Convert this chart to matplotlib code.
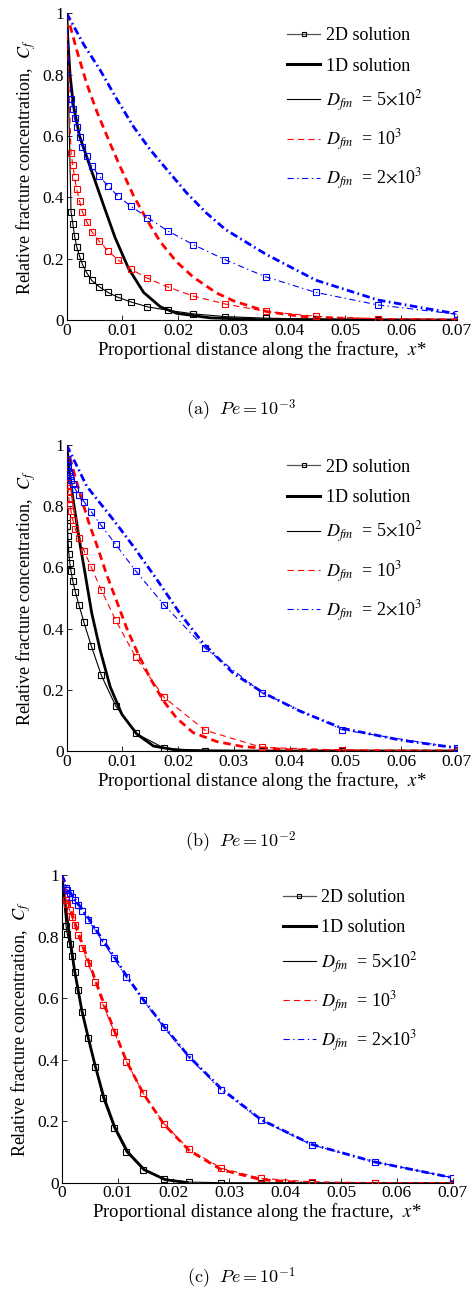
import numpy as np
import matplotlib
matplotlib.use("Agg")
import matplotlib.pyplot as plt
from matplotlib.lines import Line2D

plt.rcParams["font.family"] = ["Liberation Serif", "DejaVu Serif"]
plt.rcParams["mathtext.fontset"] = "stix"
plt.rcParams["lines.scale_dashes"] = False

# ---- data ----
# (a) Pe = 1e-3
xa_2d = [0.00078, 0.0011, 0.0014, 0.0018, 0.0023, 0.0028, 0.0036, 0.0045, 0.0058, 0.0074,
         0.0092, 0.0115, 0.0145, 0.0181, 0.0227, 0.0285, 0.0357, 0.0447, 0.0559, 0.07]
a_2d_black = [0.353, 0.313, 0.275, 0.239, 0.209, 0.182, 0.154, 0.129, 0.109, 0.090,
              0.074, 0.059, 0.043, 0.032, 0.020, 0.011, 0.006, 0.003, 0.001, 0.0]
a_2d_red = [0.543, 0.505, 0.465, 0.426, 0.389, 0.353, 0.320, 0.288, 0.258, 0.226,
            0.196, 0.166, 0.136, 0.108, 0.078, 0.052, 0.028, 0.012, 0.004, 0.001]
a_2d_blue = [0.720, 0.689, 0.658, 0.628, 0.598, 0.565, 0.535, 0.502, 0.470, 0.437,
             0.404, 0.371, 0.334, 0.291, 0.246, 0.196, 0.141, 0.090, 0.049, 0.019]
a_1d_black_x = [0, 0.0002, 0.0006, 0.0012, 0.0023, 0.0042, 0.0066, 0.0087, 0.0111, 0.0138,
                0.0168, 0.0197, 0.0257, 0.035, 0.07]
a_1d_black_y = [1, 0.92, 0.80, 0.70, 0.60, 0.50, 0.375, 0.268, 0.168, 0.09,
                0.043, 0.022, 0.007, 0.001, 0.0]
a_1d_red_x = [0, 0.0018, 0.0036, 0.0054, 0.0078, 0.0096, 0.012, 0.0144, 0.0168, 0.0197,
              0.0227, 0.0269, 0.03, 0.036, 0.042, 0.048, 0.056, 0.07]
a_1d_red_y = [1, 0.88, 0.77, 0.68, 0.575, 0.50, 0.405, 0.326, 0.255, 0.19,
              0.14, 0.088, 0.062, 0.027, 0.012, 0.005, 0.002, 0.0]
a_1d_blue_x = [0, 0.003, 0.006, 0.009, 0.012, 0.015, 0.018, 0.0215, 0.025, 0.0285,
               0.0357, 0.0447, 0.0559, 0.07]
a_1d_blue_y = [1, 0.90, 0.815, 0.72, 0.63, 0.555, 0.49, 0.415, 0.35, 0.295,
               0.215, 0.13, 0.065, 0.02]

# (b) Pe = 1e-2
xb_2d = [0.0001, 0.00014, 0.0002, 0.00027, 0.00039, 0.00055, 0.00077, 0.0011, 0.00155, 0.0022,
         0.0031, 0.0044, 0.0062, 0.0088, 0.0124, 0.0175, 0.0248, 0.035, 0.0495, 0.07]
b_2d_black = [0.766, 0.735, 0.703, 0.675, 0.645, 0.616, 0.588, 0.555, 0.52, 0.477,
              0.42, 0.344, 0.248, 0.147, 0.058, 0.009, 0.001, 0.0, 0.0, 0.0]
b_2d_red = [0.895, 0.88, 0.865, 0.85, 0.826, 0.804, 0.784, 0.755, 0.725, 0.695,
            0.655, 0.601, 0.527, 0.427, 0.306, 0.175, 0.068, 0.012, 0.003, 0.0]
b_2d_blue = [0.955, 0.945, 0.935, 0.924, 0.912, 0.9, 0.887, 0.872, 0.855, 0.837,
             0.815, 0.782, 0.737, 0.675, 0.588, 0.477, 0.337, 0.191, 0.069, 0.010]
b_1d_black_x = [0, 0.0005, 0.0012, 0.0024, 0.0033, 0.0045, 0.006, 0.0078, 0.0099, 0.0126,
                0.0156, 0.02, 0.03, 0.07]
b_1d_black_y = [1, 0.91, 0.815, 0.675, 0.58, 0.45, 0.33, 0.21, 0.12, 0.055,
                0.016, 0.002, 0.0, 0.0]
b_1d_red_x = [0, 0.001, 0.0024, 0.0039, 0.0054, 0.0072, 0.009, 0.0108, 0.0129, 0.015,
              0.0174, 0.0197, 0.0227, 0.0269, 0.0317, 0.04, 0.05, 0.07]
b_1d_red_y = [1, 0.93, 0.84, 0.75, 0.673, 0.575, 0.488, 0.40, 0.314, 0.237,
              0.163, 0.108, 0.06, 0.031, 0.014, 0.004, 0.001, 0.0]
b_1d_blue_x = [0, 0.0036, 0.0084, 0.012, 0.0162, 0.0203, 0.0245, 0.0299, 0.0353, 0.0419,
               0.0495, 0.0598, 0.07]
b_1d_blue_y = [1, 0.865, 0.755, 0.668, 0.56, 0.45, 0.352, 0.254, 0.19, 0.13,
               0.074, 0.036, 0.01]

# (c) Pe = 1e-1
xc_2d = [0.00078, 0.001, 0.0014, 0.0018, 0.0023, 0.0029, 0.0037, 0.0047, 0.006, 0.0074,
         0.0094, 0.0116, 0.0146, 0.0183, 0.0228, 0.0286, 0.0357, 0.0448, 0.056, 0.07]
c_2d_black = [0.834, 0.808, 0.776, 0.737, 0.686, 0.626, 0.556, 0.469, 0.377, 0.274,
              0.177, 0.099, 0.042, 0.012, 0.002, 0.0, 0.0, 0.0, 0.0, 0.0]
c_2d_red = [0.919, 0.905, 0.886, 0.865, 0.837, 0.805, 0.764, 0.713, 0.653, 0.578,
            0.491, 0.393, 0.291, 0.192, 0.108, 0.047, 0.014, 0.003, 0.0, 0.0]
c_2d_blue = [0.959, 0.951, 0.940, 0.929, 0.918, 0.902, 0.883, 0.854, 0.821, 0.781,
             0.729, 0.667, 0.593, 0.505, 0.407, 0.301, 0.203, 0.123, 0.068, 0.016]
c_1d_black_x = [0, 0.0008, 0.0015, 0.0023, 0.0036, 0.0047, 0.006, 0.0075, 0.0095, 0.0118,
                0.0148, 0.0185, 0.0225]
c_1d_black_y = [1, 0.88, 0.79, 0.69, 0.56, 0.475, 0.38, 0.28, 0.18, 0.10,
                0.042, 0.01, 0.0]
c_1d_red_x = [0, 0.001, 0.0018, 0.003, 0.0048, 0.006, 0.0075, 0.0094, 0.0116, 0.0146,
              0.0183, 0.0228, 0.0286, 0.0357, 0.043]
c_1d_red_y = [1, 0.925, 0.875, 0.81, 0.72, 0.66, 0.585, 0.495, 0.395, 0.29,
              0.19, 0.105, 0.042, 0.01, 0.0]
c_1d_blue_x = [0, 0.001, 0.0018, 0.003, 0.0048, 0.006, 0.0075, 0.0094, 0.0116, 0.0146,
               0.0183, 0.0228, 0.0286, 0.0357, 0.0447, 0.0559, 0.07]
c_1d_blue_y = [1, 0.96, 0.935, 0.905, 0.86, 0.825, 0.785, 0.735, 0.672, 0.595,
               0.508, 0.41, 0.305, 0.205, 0.125, 0.068, 0.016]

captions = [r"$\mathrm{(a)}\ \ Pe = 10^{-3}$",
            r"$\mathrm{(b)}\ \ Pe = 10^{-2}$",
            r"$\mathrm{(c)}\ \ Pe = 10^{-1}$"]
xticks = [0, 0.01, 0.02, 0.03, 0.04, 0.05, 0.06, 0.07]
xticklabels = ["0", "0.01", "0.02", "0.03", "0.04", "0.05", "0.06", "0.07"]
yticks = [0, 0.2, 0.4, 0.6, 0.8, 1]
yticklabels = ["0", "0.2", "0.4", "0.6", "0.8", "1"]

panels = [
    dict(x2d=xa_2d, y2d=[a_2d_black, a_2d_red, a_2d_blue],
         x1d=[a_1d_black_x, a_1d_red_x, a_1d_blue_x], y1d=[a_1d_black_y, a_1d_red_y, a_1d_blue_y]),
    dict(x2d=xb_2d, y2d=[b_2d_black, b_2d_red, b_2d_blue],
         x1d=[b_1d_black_x, b_1d_red_x, b_1d_blue_x], y1d=[b_1d_black_y, b_1d_red_y, b_1d_blue_y]),
    dict(x2d=xc_2d, y2d=[c_2d_black, c_2d_red, c_2d_blue],
         x1d=[c_1d_black_x, c_1d_red_x, c_1d_blue_x], y1d=[c_1d_black_y, c_1d_red_y, c_1d_blue_y]),
]

colors = ["black", "#ff0000", "#0000ff"]
thin_styles = ["-", (0, (4.5, 3.0)), (0, (4.5, 2.5, 1.0, 2.5))]
thick_styles = ["-", (0, (5.5, 3.5)), (0, (5.5, 2.5, 1.2, 2.5))]

# axes rectangles (left, top, right, bottom) in pixels
W, H = 472, 1289
boxes = [(66.7, 13.3, 456.7, 320.0),
         (66.7, 445.0, 456.7, 751.0),
         (61.7, 875.0, 452.7, 1182.7)]
caption_y = [410, 842, 1278]

fig = plt.figure(figsize=(W / 100, H / 100), dpi=100)

for i, p in enumerate(panels):
    l, t, r, b = boxes[i]
    ax = fig.add_axes([l / W, 1 - b / H, (r - l) / W, (b - t) / H])

    # 1D solutions (thick, no markers)
    for xs, ys, c, ls in zip(p["x1d"], p["y1d"], colors, thick_styles):
        ax.plot(xs, ys, color=c, lw=2.0, linestyle=ls, zorder=2)

    # 2D solutions (thin, open squares); curve starts at C_f = 1 on the inlet
    for ys, c, ls in zip(p["y2d"], colors, thin_styles):
        xs = [0.0] + list(p["x2d"])
        yy = [1.0] + list(ys)
        ax.plot(xs, yy, color=c, lw=0.8, linestyle=ls, marker="s", markersize=4.2,
                markerfacecolor="none", markeredgecolor=c, markeredgewidth=0.8,
                markevery=slice(1, None), zorder=3)

    ax.set_xlim(0, 0.07)
    ax.set_ylim(0, 1)
    ax.spines["top"].set_visible(False)
    ax.spines["right"].set_visible(False)
    ax.spines["left"].set_linewidth(0.8)
    ax.spines["bottom"].set_linewidth(0.8)
    ax.set_xticks(xticks)
    ax.set_xticklabels(xticklabels)
    ax.set_yticks(yticks)
    ax.set_yticklabels(yticklabels)
    ax.tick_params(direction="in", length=3.5, width=0.6, labelsize=12.5, pad=2)
    ax.set_xlabel(r"Proportional distance along the fracture,  $x$*", fontsize=13.5, labelpad=0)
    ax.set_ylabel(r"Relative fracture concentration,  $C_f$", fontsize=13, labelpad=3)

    handles = [
        Line2D([0], [0], color="#555555", lw=0.9, marker="s", markersize=3.5,
               markerfacecolor="none", markeredgecolor="black", markeredgewidth=0.8),
        Line2D([0], [0], color="black", lw=2.2),
        Line2D([0], [0], color="black", lw=0.8),
        Line2D([0], [0], color="#ff0000", lw=0.8, linestyle=(0, (4.5, 3.0))),
        Line2D([0], [0], color="#0000ff", lw=0.8, linestyle=(0, (4.5, 2.5, 1.0, 2.5))),
    ]
    labels = ["2D solution", "1D solution",
              r"$D_{fm}$  = 5$\times$10$^2$",
              r"$D_{fm}$  = 10$^3$",
              r"$D_{fm}$  = 2$\times$10$^3$"]
    ax.legend(handles, labels, loc="upper left", bbox_to_anchor=(0.565, 0.955),
              frameon=False, fontsize=13, handlelength=1.85, handletextpad=0.3,
              labelspacing=0.75, borderpad=0.0, borderaxespad=0.0, numpoints=1)

    fig.text(241 / W, 1 - caption_y[i] / H, captions[i], ha="center", va="center",
             fontsize=13, math_fontfamily="cm")

fig.savefig("out.png", dpi=100)
